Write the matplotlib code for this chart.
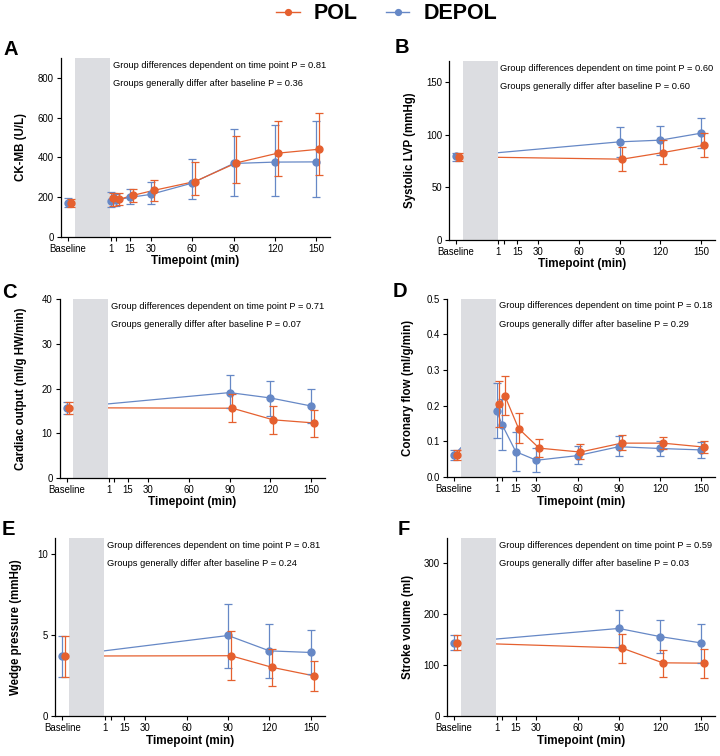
import matplotlib
matplotlib.use('Agg')
import matplotlib.pyplot as plt
from matplotlib.lines import Line2D
from matplotlib.transforms import blended_transform_factory

plt.rcParams['font.family'] = ['Liberation Sans', 'DejaVu Sans']

POL_C = '#E5602F'
DEPOL_C = '#6688C6'
BAND_C = '#DCDDE1'

# timepoints
t_long = ['Baseline', 1, 5, 15, 30, 60, 90, 120, 150]
t_short = ['Baseline', 90, 120, 150]
xtick_vals = ['Baseline', 1, 5, 15, 30, 60, 90, 120, 150]
xtick_text = ['Baseline', '1', '', '15', '30', '60', '90', '120', '150']

# A  CK-MB
ck_dep = [170, 180, 185, 198, 213, 270, 369, 376, 377]
ck_dep_lo = [148, 151, 155, 164, 164, 188, 205, 205, 198]
ck_dep_hi = [193, 226, 215, 238, 277, 394, 545, 565, 585]
ck_pol = [172, 193, 188, 208, 233, 278, 372, 421, 441]
ck_pol_lo = [150, 154, 160, 176, 181, 208, 272, 307, 313]
ck_pol_hi = [192, 221, 218, 240, 288, 377, 508, 584, 626]

# B  systolic LVP
lvp_dep = [79.3, 93.2, 94.8, 101.5]
lvp_dep_lo = [75, 79, 80.5, 87]
lvp_dep_hi = [83, 107.5, 108.7, 115.7]
lvp_pol = [79, 76.7, 83, 90]
lvp_pol_lo = [75, 65.6, 71.7, 79]
lvp_pol_hi = [83, 88, 94.8, 101.5]

# C  cardiac output
co_dep = [15.7, 19.1, 17.9, 16.1]
co_dep_lo = [14.2, 15.6, 13.8, 12.2]
co_dep_hi = [17.1, 23, 21.8, 20]
co_pol = [15.7, 15.6, 13.0, 12.3]
co_pol_lo = [14.2, 12.6, 9.8, 9.2]
co_pol_hi = [17.1, 18.8, 16.1, 15.3]

# D  coronary flow
cf_dep = [0.062, 0.186, 0.147, 0.071, 0.047, 0.060, 0.085, 0.080, 0.076]
cf_dep_lo = [0.049, 0.109, 0.077, 0.017, 0.015, 0.036, 0.058, 0.060, 0.052]
cf_dep_hi = [0.077, 0.263, 0.218, 0.126, 0.080, 0.087, 0.115, 0.102, 0.099]
cf_pol = [0.062, 0.204, 0.228, 0.136, 0.081, 0.070, 0.095, 0.095, 0.084]
cf_pol_lo = [0.049, 0.139, 0.174, 0.095, 0.056, 0.051, 0.076, 0.079, 0.066]
cf_pol_hi = [0.077, 0.268, 0.283, 0.179, 0.106, 0.093, 0.117, 0.112, 0.100]

# E  wedge pressure
wp_dep = [3.70, 4.97, 4.02, 3.92]
wp_dep_lo = [2.40, 2.98, 2.32, 2.57]
wp_dep_hi = [4.93, 6.94, 5.71, 5.32]
wp_pol = [3.70, 3.72, 3.00, 2.48]
wp_pol_lo = [2.40, 2.20, 1.87, 1.56]
wp_pol_hi = [4.93, 5.26, 4.13, 3.41]

# F  stroke volume
sv_dep = [144, 172, 156, 143.5]
sv_dep_lo = [129, 135.7, 124, 105]
sv_dep_hi = [158.5, 208.7, 189, 180.7]
sv_pol = [144, 133.7, 104.4, 103.7]
sv_pol_lo = [129, 104.4, 76.3, 75]
sv_pol_hi = [158.5, 161.8, 129.8, 132.4]


def xpos(times, shift=0):
    # baseline sits left of the grey (ischemia) band
    return [(-30 if t == 'Baseline' else t) + shift for t in times]


def panel(ax, times, dep, dep_lo, dep_hi, pol, pol_lo, pol_hi,
          ylim, yticks, ytick_text, ylabel, p1, p2):
    series = [(dep, dep_lo, dep_hi, DEPOL_C, 0, 1.0),
              (pol, pol_lo, pol_hi, POL_C, 2, 1.2)]
    for vals, lo, hi, col, sh, z in series:
        x = xpos(times, sh)
        ax.plot(x, vals, color=col, lw=0.9, zorder=z)
        err = [[v - l for v, l in zip(vals, lo)], [h - v for v, h in zip(vals, hi)]]
        ax.errorbar(x, vals, yerr=err, fmt='o', color=col, ms=5,
                    elinewidth=0.9, capsize=3, capthick=0.9, zorder=z + 1.5)
    ax.axvspan(-25, 0.5, color=BAND_C, lw=0, zorder=1.5)

    ax.set_xlim(-35, 160)
    ax.set_ylim(*ylim)
    ax.set_xticks(xpos(xtick_vals))
    ax.set_xticklabels(xtick_text)
    ax.set_yticks(yticks)
    ax.set_yticklabels(ytick_text)
    ax.tick_params(labelsize=6.9, length=3.2, width=0.8, pad=2)
    for s in ['top', 'right']:
        ax.spines[s].set_visible(False)
    for s in ['left', 'bottom']:
        ax.spines[s].set_linewidth(0.9)
    ax.set_ylabel(ylabel, fontsize=8.3, fontweight='bold')
    ax.yaxis.set_label_coords(-0.125, 0.5)
    ax.set_xlabel('Timepoint (min)', fontsize=8.5, fontweight='bold', labelpad=1)

    tr = blended_transform_factory(ax.transData, ax.transAxes)
    ax.text(2.5, 0.96, 'Group differences dependent on time point P = ' + p1,
            transform=tr, fontsize=6.7, va='center')
    ax.text(2.5, 0.857, 'Groups generally differ after baseline P = ' + p2,
            transform=tr, fontsize=6.7, va='center')


fig = plt.figure(figsize=(7.2, 7.56), dpi=100)

axA = fig.add_axes([0.0847, 0.687, 0.374, 0.236])
axB = fig.add_axes([0.624, 0.683, 0.369, 0.236])
axC = fig.add_axes([0.083, 0.368, 0.368, 0.236])
axD = fig.add_axes([0.621, 0.369, 0.372, 0.236])
axE = fig.add_axes([0.077, 0.053, 0.374, 0.2355])
axF = fig.add_axes([0.621, 0.053, 0.372, 0.2355])

panel(axA, t_long, ck_dep, ck_dep_lo, ck_dep_hi, ck_pol, ck_pol_lo, ck_pol_hi,
      (0, 900), [0, 200, 400, 600, 800], ['0', '200', '400', '600', '800'],
      'CK-MB (U/L)', '0.81', '0.36')
panel(axB, t_short, lvp_dep, lvp_dep_lo, lvp_dep_hi, lvp_pol, lvp_pol_lo, lvp_pol_hi,
      (0, 170), [0, 50, 100, 150], ['0', '50', '100', '150'],
      'Systolic LVP (mmHg)', '0.60', '0.60')
panel(axC, t_short, co_dep, co_dep_lo, co_dep_hi, co_pol, co_pol_lo, co_pol_hi,
      (0, 40), [0, 10, 20, 30, 40], ['0', '10', '20', '30', '40'],
      'Cardiac output (ml/g HW/min)', '0.71', '0.07')
panel(axD, t_long, cf_dep, cf_dep_lo, cf_dep_hi, cf_pol, cf_pol_lo, cf_pol_hi,
      (0, 0.5), [0, 0.1, 0.2, 0.3, 0.4, 0.5], ['0.0', '0.1', '0.2', '0.3', '0.4', '0.5'],
      'Coronary flow (ml/g/min)', '0.18', '0.29')
panel(axE, t_short, wp_dep, wp_dep_lo, wp_dep_hi, wp_pol, wp_pol_lo, wp_pol_hi,
      (0, 11), [0, 5, 10], ['0', '5', '10'],
      'Wedge pressure (mmHg)', '0.81', '0.24')
panel(axF, t_short, sv_dep, sv_dep_lo, sv_dep_hi, sv_pol, sv_pol_lo, sv_pol_hi,
      (0, 350), [0, 100, 200, 300], ['0', '100', '200', '300'],
      'Stroke volume (ml)', '0.59', '0.03')

# panel letters
for lab, px, py in [('A', 3, 55), ('B', 395, 53), ('C', 2, 298),
                    ('D', 393, 297), ('E', 2, 535), ('F', 398, 535)]:
    fig.text(px / 720, 1 - py / 756, lab, fontsize=14.5, fontweight='bold', va='baseline')

handles = [Line2D([0], [0], color=POL_C, marker='o', ms=4.2, lw=1),
           Line2D([0], [0], color=DEPOL_C, marker='o', ms=4.2, lw=1)]
fig.legend(handles, ['POL', 'DEPOL'], loc='center', bbox_to_anchor=(0.537, 0.982),
           ncol=2, frameon=False, prop={'weight': 'bold', 'size': 15.5},
           handlelength=1.1, handletextpad=0.65, columnspacing=1.3)

fig.savefig('out.png', dpi=100)
